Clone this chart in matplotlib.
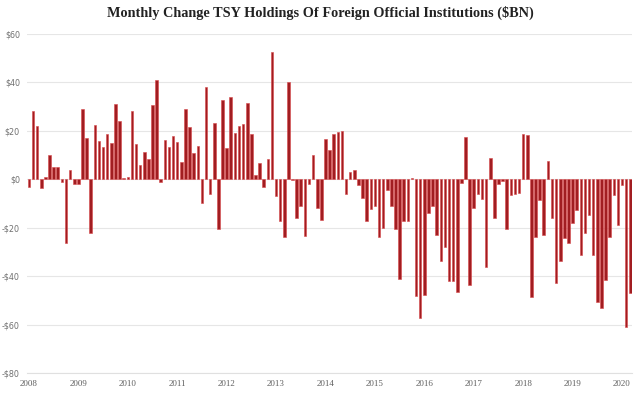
import numpy as np
import matplotlib.pyplot as plt

# Monthly change, $BN, Jan 2008 - Mar 2020
y2008 = [-3.3, 28, 22, -3.5, 1, 10, 5, 5, -1.2, -26.4, 3.9, -2]
y2009 = [-2, 29, 17, -22, 22.4, 15.7, 13.2, 18.7, 15, 31, 24, 0.5]
y2010 = [1, 28, 14.4, 6, 11.3, 8.2, 30.5, 41, -1, 16.4, 13.3, 18]
y2011 = [15.5, 7.2, 29.2, 21.4, 11, 13.9, -10, 38, -6, 23.4, -20.4, 32.8]
y2012 = [13, 33.8, 19, 21.8, 22.7, 31.7, 18.5, 1.9, 6.8, -3.4, 8.3, 52.7]
y2013 = [-7, -17.2, -24, 40.2, -0.5, -16, -11, -23.4, -1.9, 10, -12, -16.8]
y2014 = [16.5, 11.9, 18.7, 19.6, 19.8, -6.1, 3.1, 3.8, -2.4, -7.6, -17.2, -12.4]
y2015 = [-11.2, -23.8, -20, -4.6, -11, -20.5, -41.2, -17.4, -17.1, 0.5, -48.2, -57.5]
y2016 = [-47.6, -14, -11.2, -23.2, -33.8, -28.1, -42, -42.1, -46.6, -1.5, 17.4, -43.6]
y2017 = [-12, -6, -8.2, -36.2, 8.6, -16, -2.1, -0.7, -20.4, -6.7, -6.1, -5.5]
y2018 = [18.9, 18.1, -48.5, -24, -8.5, -23, 7.6, -15.8, -43, -33.7, -24.3, -26.5]
y2019 = [-18, -12.8, -31.2, -22.3, -14.9, -31.2, -50.5, -53, -41.7, -24, -6.5, -18.8]
y2020 = [-2.3, -61.2, -46.8]

values = (y2008 + y2009 + y2010 + y2011 + y2012 + y2013 + y2014 + y2015
          + y2016 + y2017 + y2018 + y2019 + y2020)
years = list(range(2008, 2021))
y_ticks = [60, 40, 20, 0, -20, -40, -60, -80]

n = len(values)
x = np.arange(n)

fig = plt.figure(figsize=(6.4, 3.93), dpi=100)
ax = fig.add_axes([0.042, 0.051, 0.946, 0.8625])

ax.bar(x, values, width=0.62, color='#a11d21', edgecolor='#d9474a', linewidth=0.4, zorder=3)

ax.set_xlim(-0.5, n - 0.5)
ax.set_ylim(-80, 60)
ax.set_yticks(y_ticks)
ax.set_yticklabels([('-$%d' % -v) if v < 0 else ('$%d' % v) for v in y_ticks],
                   fontsize=5.8, color='#707070')
ax.set_xticks([12 * i for i in range(len(years))])
ax.set_xticklabels([str(yr) for yr in years], fontsize=6.5, color='#606060',
                   family='Liberation Serif')
ax.tick_params(axis='both', length=0)
ax.tick_params(axis='y', pad=5)
ax.tick_params(axis='x', pad=5)

ax.grid(axis='y', color='#e6e6e6', linewidth=0.8, zorder=0)
for s in ['top', 'left', 'right']:
    ax.spines[s].set_visible(False)
ax.spines['bottom'].set_color('#e0e0e0')

fig.suptitle('Monthly Change TSY Holdings Of Foreign Official Institutions ($BN)',
             x=0.5, y=0.985, fontsize=10.3, fontweight='bold',
             family='Liberation Serif', color='#222222')

fig.savefig('out.png', dpi=100)
